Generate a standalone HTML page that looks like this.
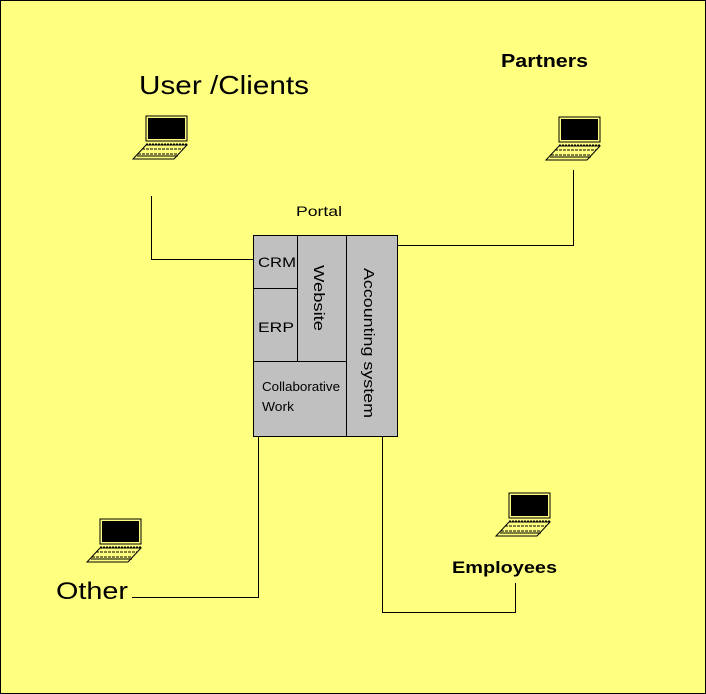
<!DOCTYPE html>
<html><head><style>
html,body{margin:0;padding:0;background:#ffff80;}
svg{display:block;}
text{font-family:"Liberation Sans",Arial,sans-serif;fill:#000;}
</style></head><body>
<svg width="706" height="694" viewBox="0 0 706 694" xmlns="http://www.w3.org/2000/svg">
<defs>
<g id="lap">
<rect x="-2" y="-2" width="41" height="25" fill="none" stroke="#000" stroke-width="1"/>
<rect x="0" y="0" width="37" height="21" fill="#000"/>
<line x1="-2" y1="26" x2="39" y2="26" stroke="#000" stroke-dasharray="2,1"/>
<polygon points="-2,27 39,27 26,41 -15,41" fill="none" stroke="#000"/>
<line x1="-6" y1="31" x2="35" y2="31" stroke="#000" stroke-dasharray="3,1"/>
<line x1="-10" y1="36" x2="31" y2="36" stroke="#000" stroke-dasharray="3,1"/>
<line x1="-11" y1="38" x2="30" y2="38" stroke="#000"/>
</g>
</defs>
<rect x="0.5" y="0.5" width="705" height="693" fill="#ffff80" stroke="#000"/>
<text x="139" y="94" font-size="26" textLength="170" lengthAdjust="spacingAndGlyphs">User /Clients</text>
<text x="501" y="67" font-size="18" font-weight="bold" textLength="87" lengthAdjust="spacingAndGlyphs">Partners</text>
<text x="296" y="216" font-size="14" textLength="46" lengthAdjust="spacingAndGlyphs">Portal</text>
<text x="56" y="599" font-size="24" textLength="72" lengthAdjust="spacingAndGlyphs">Other</text>
<text x="452" y="573" font-size="17" font-weight="bold" textLength="105" lengthAdjust="spacingAndGlyphs">Employees</text>
<use href="#lap" x="148" y="118"/>
<use href="#lap" x="561" y="119"/>
<use href="#lap" x="102" y="521"/>
<use href="#lap" x="511" y="495"/>
<g fill="none" stroke="#000" stroke-width="1">
<polyline points="151.5,196 151.5,259.5 253,259.5"/>
<polyline points="573.5,170 573.5,245.5 397,245.5"/>
<polyline points="132,597.5 258.5,597.5 258.5,436"/>
<polyline points="382.5,436 382.5,612.5 515.5,612.5 515.5,583"/>
</g>
<rect x="253.5" y="235.5" width="144" height="201" fill="#c0c0c0" stroke="#000"/>
<g stroke="#000" fill="none">
<line x1="297.5" y1="235" x2="297.5" y2="361"/>
<line x1="346.5" y1="235" x2="346.5" y2="436"/>
<line x1="253" y1="288.5" x2="297" y2="288.5"/>
<line x1="253" y1="361.5" x2="346" y2="361.5"/>
</g>
<text x="258" y="267" font-size="14" textLength="38" lengthAdjust="spacingAndGlyphs">CRM</text>
<text x="258" y="332" font-size="14" textLength="36" lengthAdjust="spacingAndGlyphs">ERP</text>
<text x="262" y="391" font-size="13" textLength="78" lengthAdjust="spacingAndGlyphs">Collaborative</text>
<text x="262" y="411" font-size="13" textLength="32" lengthAdjust="spacingAndGlyphs">Work</text>
<text transform="translate(314,265) rotate(90)" font-size="15" textLength="66" lengthAdjust="spacingAndGlyphs">Website</text>
<text transform="translate(364,268) rotate(90)" font-size="15" textLength="150" lengthAdjust="spacingAndGlyphs">Accounting system</text>
</svg>
</body></html>
